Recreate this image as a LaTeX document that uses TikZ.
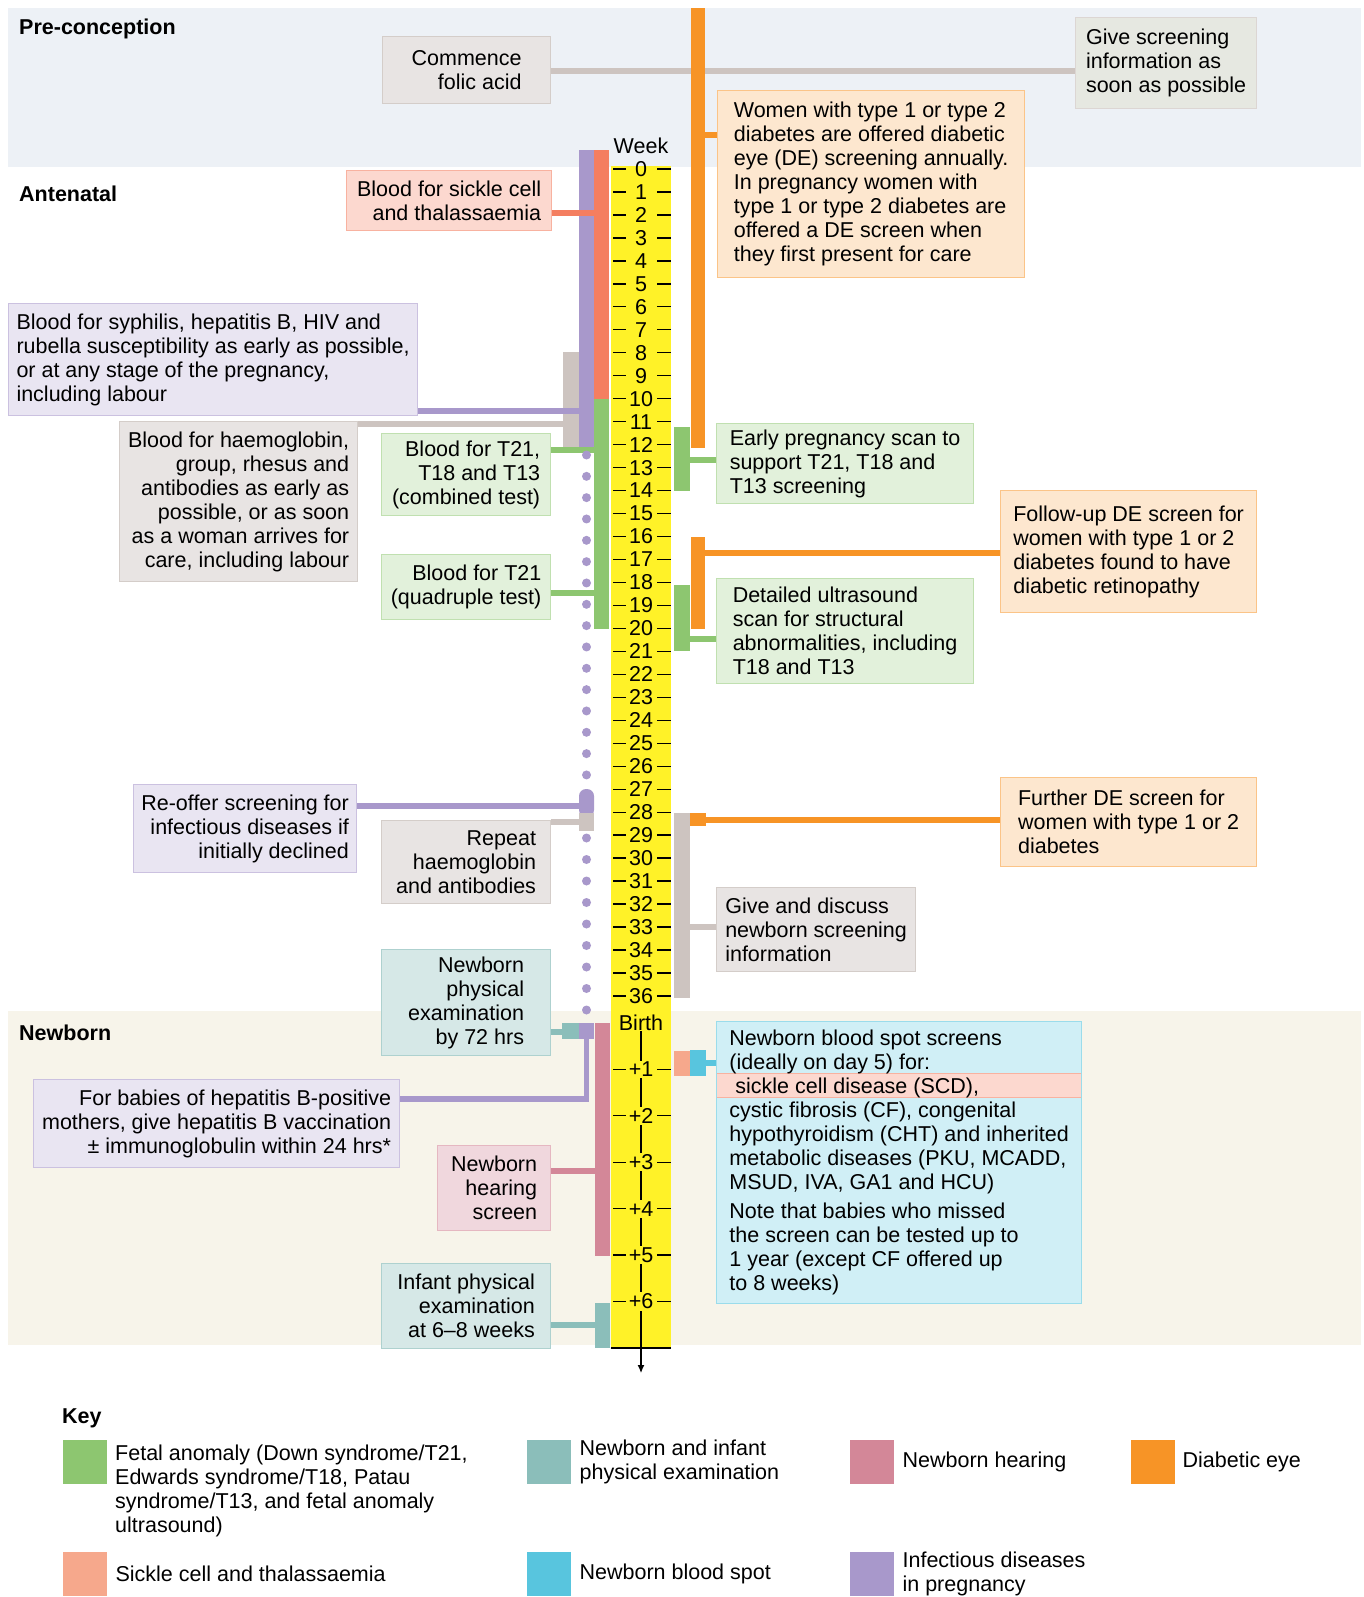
\documentclass[tikz,border=0pt]{standalone}
\usepackage{fontspec}
\setmainfont{Liberation Sans}
\usetikzlibrary{arrows.meta,positioning,backgrounds}
\definecolor{fetal}{RGB}{141,198,112}
\definecolor{physex}{RGB}{139,190,186}
\definecolor{hearing}{RGB}{211,135,152}
\definecolor{diabeye}{RGB}{247,148,38}
\definecolor{sickle}{RGB}{244,126,96}
\definecolor{sicklekey}{RGB}{246,168,140}
\definecolor{bloodspot}{RGB}{88,197,222}
\definecolor{infect}{RGB}{168,152,203}
\definecolor{general}{RGB}{205,196,192}
\definecolor{infofill}{RGB}{230,232,225}
\definecolor{axisyellow}{RGB}{255,242,40}
\definecolor{preband}{RGB}{237,241,246}
\definecolor{nbband}{RGB}{247,244,234}

\begin{document}
\begin{tikzpicture}[x=1pt, y=-1pt,
  every node/.style={font=\fontsize{21.5}{24}\selectfont},
  box/.style={draw, line width=1.2pt, inner sep=0pt, anchor=north west},
  lbox/.style={box, align=left},
  rbox/.style={box, align=right},
  bar/.style={inner sep=0pt, outer sep=0pt, anchor=north west, minimum width=15pt},
  link/.style={line width=5.5pt},
  wk/.style={inner sep=0pt},
  tick/.style={line width=1.3pt},
  sect/.style={font=\fontsize{21.5}{24}\selectfont\bfseries, anchor=west, inner sep=0pt},
  swatch/.style={minimum size=44pt, inner sep=0pt, anchor=north west},
  keytext/.style={align=left, inner sep=0pt},
]
\useasboundingbox (0,0) rectangle (1364,1597);

% period bands and week axis
\begin{scope}[on background layer]
  \fill[preband] (8,8) rectangle (1361,167);
  \fill[nbband] (8,1011) rectangle (1361,1345);
  \fill[axisyellow] (611,166) rectangle (671,1348);
\end{scope}
\node[sect] (pre) at (19,29) {Pre-conception};
\node[sect] (ante) at (19,194) {Antenatal};
\node[sect] (newb) at (19,1033) {Newborn};

% screening bars
\node[bar, fill=infect, minimum height=297pt] (idbar) at (579,150) {};
\node[bar, fill=sickle, minimum height=249pt] (scbar) at (594,150) {};
\node[bar, fill=general, minimum width=16pt, minimum height=95pt] (hbbar) at (563,352) {};
\node[bar, fill=fetal, minimum height=230pt] (fabar) at (594,399) {};
\node[bar, fill=diabeye, minimum width=14pt, minimum height=440pt] (debar) at (691,8) {};
\node[bar, fill=fetal, minimum width=16pt, minimum height=64pt] (esbar) at (674,427) {};
\node[bar, fill=diabeye, minimum width=14pt, minimum height=92pt] (dfbar) at (691,537) {};
\node[bar, fill=fetal, minimum width=16pt, minimum height=66pt] (asbar) at (674,585) {};
\node[bar, fill=infect, rounded corners=7pt, minimum height=28pt] (roblob) at (579,789) {};
\node[bar, fill=general, minimum height=18pt] (rhbar) at (579,813) {};
\node[bar, fill=general, minimum width=16pt, minimum height=185pt] (nibar) at (674,813) {};
\node[bar, fill=diabeye, minimum width=16pt, minimum height=13pt] (dxbar) at (690,813) {};
\node[bar, fill=sicklekey, minimum width=16pt, minimum height=25pt] (nsbar) at (674,1051) {};
\node[bar, fill=bloodspot, minimum width=16pt, minimum height=26pt] (nbbar) at (690,1050) {};
\node[bar, fill=physex, minimum width=17pt, minimum height=16pt] (npbar) at (562,1023) {};
\node[bar, fill=infect, minimum height=16pt] (hvbar) at (579,1023) {};
\node[bar, fill=hearing, minimum height=233pt] (nhbar) at (595,1023) {};
\node[bar, fill=physex, minimum height=45pt] (ipbar) at (595,1303) {};

\foreach \i in {0,...,15} \fill[infect] (586.5,{455+21.33*\i}) circle (4.5pt);
\foreach \i in {0,...,8} \fill[infect] (586.5,{838+21.5*\i}) circle (4.5pt);

% boxes
\node[rbox, fill=general!45, draw=general!85, minimum width=168pt, minimum height=67pt] (folic) at (382,36) {Commence\\folic acid};
\node[lbox, fill=infofill, draw=general!70, minimum width=181pt, minimum height=91pt] (info) at (1075,17) {Give screening\\information as\\soon as possible};
\node[lbox, fill=diabeye!22, draw=diabeye!55, minimum width=307pt, minimum height=187pt] (dein) at (717,90) {Women with type 1 or type 2\\diabetes are offered diabetic\\eye (DE) screening annually.\\In pregnancy women with\\type 1 or type 2 diabetes are\\offered a DE screen when\\they first present for care};
\node[rbox, fill=sickle!30, draw=sickle!60, minimum width=205pt, minimum height=60pt] (scblood) at (346,170) {Blood for sickle cell\\and thalassaemia};
\node[lbox, fill=infect!25, draw=infect!60, minimum width=409pt, minimum height=112pt] (idblood) at (8,303) {Blood for syphilis, hepatitis B, HIV and\\rubella susceptibility as early as possible,\\or at any stage of the pregnancy,\\including labour};
\node[rbox, fill=general!45, draw=general!85, minimum width=238pt, minimum height=160pt] (hbblood) at (119,421) {Blood for haemoglobin,\\group, rhesus and\\antibodies as early as\\possible, or as soon\\as a woman arrives for\\care, including labour};
\node[rbox, fill=fetal!25, draw=fetal!55, minimum width=169pt, minimum height=82pt] (combined) at (381,433) {Blood for T21,\\T18 and T13\\(combined test)};
\node[rbox, fill=fetal!25, draw=fetal!55, minimum width=169pt, minimum height=65pt] (quadruple) at (381,554) {Blood for T21\\(quadruple test)};
\node[lbox, fill=fetal!25, draw=fetal!55, minimum width=257pt, minimum height=80pt] (earlyscan) at (716,423) {Early pregnancy scan to\\support T21, T18 and\\T13 screening};
\node[lbox, fill=diabeye!22, draw=diabeye!55, minimum width=256pt, minimum height=122pt] (defollow) at (1000,490) {Follow-up DE screen for\\women with type 1 or 2\\diabetes found to have\\diabetic retinopathy};
\node[lbox, fill=fetal!25, draw=fetal!55, minimum width=257pt, minimum height=105pt] (anomscan) at (716,578) {Detailed ultrasound\\scan for structural\\abnormalities, including\\T18 and T13};
\node[rbox, fill=infect!25, draw=infect!60, minimum width=223pt, minimum height=88pt] (reoffer) at (133,784) {Re-offer screening for\\infectious diseases if\\initially declined};
\node[rbox, fill=general!45, draw=general!85, minimum width=169pt, minimum height=83pt] (hbrepeat) at (381,820) {Repeat\\haemoglobin\\and antibodies};
\node[lbox, fill=diabeye!22, draw=diabeye!55, minimum width=256pt, minimum height=89pt] (defurther) at (1000,777) {Further DE screen for\\women with type 1 or 2\\diabetes};
\node[lbox, fill=general!45, draw=general!85, minimum width=199pt, minimum height=84pt] (nbinfo) at (716,887) {Give and discuss\\newborn screening\\information};
\node[rbox, fill=physex!35, draw=physex!70, minimum width=169pt, minimum height=106pt] (nipe) at (381,949) {Newborn\\physical\\examination\\by 72 hrs};
\node[rbox, fill=infect!25, draw=infect!60, minimum width=366pt, minimum height=88pt] (hepb) at (33,1079) {For babies of hepatitis B-positive\\mothers, give hepatitis B vaccination\\± immunoglobulin within 24 hrs*};
\node[rbox, fill=hearing!33, draw=hearing!60, minimum width=113pt, minimum height=85pt] (hearscr) at (437,1145) {Newborn\\hearing\\screen};
\node[rbox, fill=physex!35, draw=physex!70, minimum width=169pt, minimum height=85pt] (infexam) at (381,1263) {Infant physical\\examination\\at 6--8 weeks};
\node[lbox, fill=bloodspot!28, draw=bloodspot!60, minimum width=365pt, minimum height=282pt,
  path picture={\filldraw[fill=sickle!30, draw=sickle!60, line width=1.2pt]
    ([yshift=-52pt]path picture bounding box.north west) rectangle
    ([yshift=-76pt]path picture bounding box.north east);}] (spot) at (716,1021)
  {Newborn blood spot screens\\(ideally on day 5) for:\\\hspace*{6pt}sickle cell disease (SCD),\\cystic fibrosis (CF), congenital\\hypothyroidism (CHT) and inherited\\metabolic diseases (PKU, MCADD,\\MSUD, IVA, GA1 and HCU)\\[5pt]Note that babies who missed\\the screen can be tested up to\\1 year (except CF offered up\\to 8 weeks)};

% connectors
\draw[link, sickle] (scblood.east |- 0,213) -- (scbar.west |- 0,213);
\draw[link, infect] (idblood.east |- 0,411) -- (idbar.west |- 0,411);
\begin{scope}[on background layer]
  \draw[link, general] (folic.east |- 0,71) -- (info.west |- 0,71);
  \draw[link, diabeye] (debar.east |- 0,135) -- (dein.west |- 0,135);
  \draw[link, general] (hbblood.east |- 0,424) -- (hbbar.west |- 0,424);
  \draw[link, fetal] (combined.east |- 0,450) -- (fabar.west |- 0,450);
  \draw[link, fetal] (quadruple.east |- 0,593) -- (fabar.west |- 0,593);
  \draw[link, fetal] (esbar.east |- 0,460) -- (earlyscan.west |- 0,460);
  \draw[link, diabeye] (dfbar.east |- 0,553) -- (defollow.west |- 0,553);
  \draw[link, fetal] (asbar.east |- 0,639) -- (anomscan.west |- 0,639);
  \draw[link, infect] (reoffer.east |- 0,806) -- (roblob.west |- 0,806);
  \draw[link, general] (hbrepeat.east |- 0,822) -- (rhbar.west |- 0,822);
  \draw[link, diabeye] (dxbar.east |- 0,820) -- (defurther.west |- 0,820);
  \draw[link, general] (nibar.east |- 0,927) -- (nbinfo.west |- 0,927);
  \draw[link, physex] (nipe.east |- 0,1032) -- (npbar.west |- 0,1032);
  \draw[link, infect] (hepb.east |- 0,1099) -| (hvbar.south);
  \draw[link, hearing] (hearscr.east |- 0,1171) -- (nhbar.west |- 0,1171);
  \draw[link, physex] (infexam.east |- 0,1325) -- (ipbar.west |- 0,1325);
  \draw[link, bloodspot] (nbbar.east |- 0,1063) -- (spot.west |- 0,1063);
\end{scope}

% week scale
\node[wk] (week) at (641,146) {Week};
\foreach \w in {0,...,36} {
  \node[wk] (w\w) at (641,{169+22.97*\w}) {\w};
  \draw[tick] ([xshift=-28pt]w\w.center) -- ++(13,0);
  \draw[tick] ([xshift=16pt]w\w.center) -- ++(14,0);
}
\node[wk] (birth) at (641,1023) {Birth};
\coordinate (tend) at (641,1373);
\draw[line width=2pt] (611,1348) -- (671,1348);
\draw[line width=1.2pt, -{Latex[length=8pt,width=7pt]}] (birth.south) -- (tend);
\foreach \n in {1,...,6} {
  \node[wk, fill=axisyellow, inner sep=1.5pt] (nb\n) at (641,{1023+46.4*\n}) {+\n};
  \draw[tick] ([xshift=-28pt]nb\n.center) -- ++(13,0);
  \draw[tick] ([xshift=16pt]nb\n.center) -- ++(14,0);
}

% key
\node[sect] (key) at (62,1418) {Key};
\node[swatch, fill=fetal] (kfa) at (63,1440) {};
\node[keytext, anchor=north west] (tfa) at (115,1445) {Fetal anomaly (Down syndrome/T21,\\Edwards syndrome/T18, Patau\\syndrome/T13, and fetal anomaly\\ultrasound)};
\node[swatch, fill=physex] (kpe) at (527,1440) {};
\node[keytext, right=8pt of kpe] (tpe) {Newborn and infant\\physical examination};
\node[swatch, fill=hearing] (knh) at (850,1440) {};
\node[keytext, right=8pt of knh] (tnh) {Newborn hearing};
\node[swatch, fill=diabeye] (kde) at (1131,1440) {};
\node[keytext, right=7pt of kde] (tde) {Diabetic eye};
\node[swatch, fill=sicklekey] (ksc) at (63,1552) {};
\node[keytext, right=8pt of ksc] (tsc) {Sickle cell and thalassaemia};
\node[swatch, fill=bloodspot] (kbs) at (527,1552) {};
\node[keytext, right=8pt of kbs] (tbs) {Newborn blood spot};
\node[swatch, fill=infect] (kid) at (850,1552) {};
\node[keytext, right=8pt of kid] (tid) {Infectious diseases\\in pregnancy};
\end{tikzpicture}
\end{document}
